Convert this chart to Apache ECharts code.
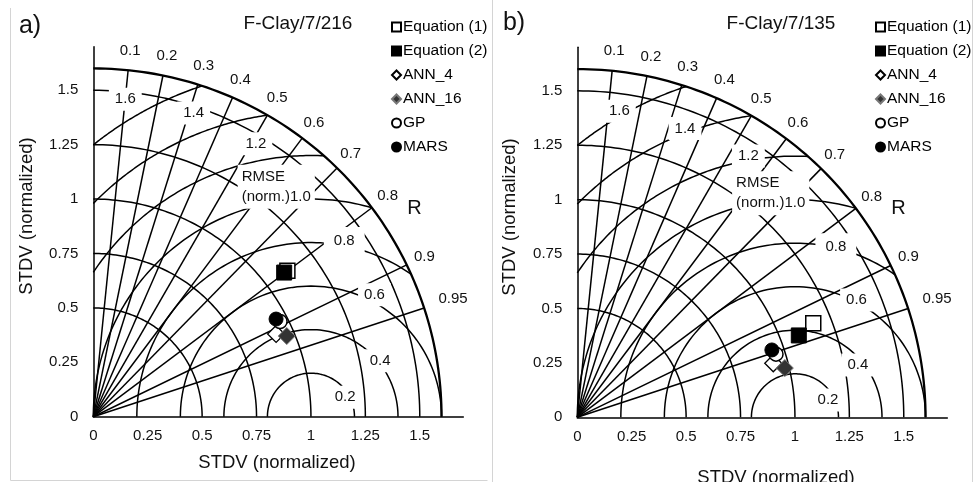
<!DOCTYPE html>
<html>
<head>
<meta charset="utf-8">
<script src="https://cdn.jsdelivr.net/npm/echarts@6/dist/echarts.min.js"></script>
<style>
html, body { margin: 0; padding: 0; background: #fff; }
#main { width: 976px; height: 482px; }
</style>
</head>
<body>
<div id="main"></div>
<script>
var models = ['Equation (1)', 'Equation (2)', 'ANN_4', 'ANN_16', 'GP', 'MARS'];

// normalized standard deviation and correlation of each model
var stdvA = [1.116, 1.099, 0.922, 0.963, 0.963, 0.952];
var corrA = [0.799, 0.798, 0.911, 0.923, 0.891, 0.882];
var stdvB = [1.167, 1.085, 0.934, 0.980, 0.958, 0.946];
var corrB = [0.929, 0.938, 0.964, 0.973, 0.953, 0.945];

// diagram grid
var corrTicks = [0.1, 0.2, 0.3, 0.4, 0.5, 0.6, 0.7, 0.8, 0.9, 0.95];
var stdvRings = [0.5, 0.75, 1, 1.25, 1.5];
var stdvOuter = 1.6;
var rmseRings = [0.2, 0.4, 0.6, 0.8, 1.0, 1.2, 1.4, 1.6];
var rmseNames = ['0.2', '0.4', '0.6', '0.8', 'RMSE\n(norm.)1.0', '1.2', '1.4', '1.6'];

// where excel put the rmse labels (data units)
var rmseSpotA = [[1.157, 0.089], [1.318, 0.257], [1.292, 0.560], [1.153, 0.809], [0.661, 1.057], [0.747, 1.254], [0.461, 1.395], [0.147, 1.459]];
var rmseSpotB = [[1.152, 0.079], [1.289, 0.240], [1.283, 0.539], [1.188, 0.784], [0.709, 1.029], [0.786, 1.200], [0.495, 1.327], [0.193, 1.406]];

var FONT = '"Liberation Sans", Arial, sans-serif';
var chart = echarts.init(document.getElementById('main'));

function ring(r) {
    var pts = [];
    for (var i = 0; i <= 90; i++) {
        var a = i / 90 * Math.PI / 2;
        pts.push([r * Math.cos(a), r * Math.sin(a)]);
    }
    return pts;
}

function rmseArc(r) {
    var t0 = 1 + r > stdvOuter ? Math.acos((stdvOuter * stdvOuter - 1 - r * r) / (2 * r)) : 0;
    var t1 = r > 1 ? Math.acos(-1 / r) : Math.PI;
    var pts = [];
    for (var i = 0; i <= 90; i++) {
        var t = t0 + (t1 - t0) * i / 90;
        pts.push([1 + r * Math.cos(t), r * Math.sin(t)]);
    }
    return pts;
}

function spoke(c) {
    return [[0, 0], [stdvOuter * c, stdvOuter * Math.sqrt(1 - c * c)]];
}

var symbols = [
    { symbol: 'rect', symbolSize: 15, itemStyle: { color: '#fff', borderColor: '#000', borderWidth: 1.5, opacity: 1 } },
    { symbol: 'rect', symbolSize: 15, itemStyle: { color: '#000', borderColor: '#000', borderWidth: 1, opacity: 1 } },
    { symbol: 'diamond', symbolSize: 17, itemStyle: { color: '#fff', borderColor: '#000', borderWidth: 1.3, opacity: 1 } },
    { symbol: 'diamond', symbolSize: 17, itemStyle: { color: '#333', borderColor: '#777', borderWidth: 1, opacity: 1 } },
    { symbol: 'circle', symbolSize: 14, itemStyle: { color: '#fff', borderColor: '#000', borderWidth: 1.5, opacity: 1 } },
    { symbol: 'circle', symbolSize: 14, itemStyle: { color: '#000', borderColor: '#000', borderWidth: 1, opacity: 1 } }
];

function panel(idx, stdv, corr, spots) {
    var list = [];
    var grid = stdvRings.map(function (r) { return { coords: ring(r) }; })
        .concat(rmseRings.map(function (r) { return { coords: rmseArc(r) }; }))
        .concat(corrTicks.map(function (c) { return { coords: spoke(c) }; }));
    list.push({
        type: 'lines', coordinateSystem: 'cartesian2d', xAxisIndex: idx, yAxisIndex: idx,
        polyline: true, silent: true, z: 2,
        lineStyle: { color: '#000', width: 1.5, opacity: 1 },
        data: grid
    });
    list.push({
        type: 'lines', coordinateSystem: 'cartesian2d', xAxisIndex: idx, yAxisIndex: idx,
        polyline: true, silent: true, z: 2,
        lineStyle: { color: '#000', width: 2.3, opacity: 1 },
        data: [{ coords: ring(stdvOuter) }]
    });
    list.push({
        type: 'scatter', xAxisIndex: idx, yAxisIndex: idx, z: 5, silent: true,
        symbolSize: 1, itemStyle: { color: 'rgba(255,255,255,0)', opacity: 1 },
        label: {
            show: true, position: 'inside', formatter: '{b}', fontFamily: FONT, opacity: 1,
            fontSize: 15, color: '#111', backgroundColor: '#fff', padding: [4, 6]
        },
        data: rmseNames.map(function (n, i) {
            var item = { name: n, value: spots[i] };
            if (n.indexOf('RMSE') === 0) {
                item.label = { position: 'right', distance: 0, align: 'left', lineHeight: 20, padding: [2, 4] };
            }
            if (n === '0.8') item.label = { padding: [6, 10] };
            return item;
        })
    });
    list.push({
        type: 'scatter', xAxisIndex: idx, yAxisIndex: idx, z: 5, silent: true,
        symbolSize: 1, itemStyle: { color: 'rgba(255,255,255,0)', opacity: 1 },
        label: { show: true, position: 'inside', formatter: '{b}', fontFamily: FONT, fontSize: 15, color: '#111', opacity: 1 },
        data: corrTicks.map(function (c) {
            var rr = String(c).length > 3 ? 1.74 : 1.69;
            return { name: String(c), value: [rr * c, rr * Math.sqrt(1 - c * c)] };
        }).concat([{
            name: 'R', value: [1.76 * Math.cos(33 * Math.PI / 180), 1.76 * Math.sin(33 * Math.PI / 180)],
            label: { fontSize: 20 }
        }])
    });
    models.forEach(function (m, i) {
        list.push(Object.assign({
            type: 'scatter', name: m, xAxisIndex: idx, yAxisIndex: idx, z: 10, silent: true,
            data: [[stdv[i] * corr[i], stdv[i] * Math.sqrt(1 - corr[i] * corr[i])]]
        }, symbols[i]));
    });
    return list;
}

function tickText(v) {
    return v > 1.55 ? '' : String(v);
}

function xAx(idx) {
    return {
        type: 'value', gridIndex: idx, min: 0, max: 1.7, interval: 0.25,
        axisLine: { show: true, onZero: false, lineStyle: { color: '#000', width: 1.5 } },
        axisTick: { show: false }, splitLine: { show: false },
        axisLabel: { fontFamily: FONT, fontSize: 15, color: '#111', margin: 12, formatter: tickText }
    };
}

function yAx(idx) {
    return {
        type: 'value', gridIndex: idx, min: 0, max: 1.7, interval: 0.25,
        axisLine: { show: true, onZero: false, lineStyle: { color: '#000', width: 1.5 } },
        axisTick: { show: false }, splitLine: { show: false },
        axisLabel: { fontFamily: FONT, fontSize: 15, color: '#111', margin: 15, formatter: tickText }
    };
}

function legendAt(left) {
    return {
        data: models, orient: 'vertical', left: left, top: 14,
        itemWidth: 9, itemHeight: 9, itemGap: 8, selectedMode: false,
        textStyle: { fontFamily: FONT, fontSize: 15.5, color: '#000', padding: [0, 0, 0, -3] }
    };
}

function txt(x, y, s, size, rot) {
    return {
        type: 'text', x: x, y: y, rotation: rot || 0, silent: true,
        style: { text: s, fontFamily: FONT, fontSize: size, fill: '#111', align: 'center', verticalAlign: 'middle' }
    };
}

var option = {
    animation: false,
    textStyle: { fontFamily: FONT },
    grid: [
        { left: 93.3, top: 46.7, width: 370, height: 370, outerBoundsMode: 'none' },
        { left: 577.3, top: 47.3, width: 370, height: 370, outerBoundsMode: 'none' }
    ],
    xAxis: [xAx(0), xAx(1)],
    yAxis: [yAx(0), yAx(1)],
    legend: [legendAt(386), legendAt(870)],
    graphic: [
        { type: 'polyline', silent: true, shape: { points: [[10.5, 8], [10.5, 480.5], [487.5, 480.5]] }, style: { stroke: '#d4d4d4', lineWidth: 1, fill: null } },
        { type: 'polyline', silent: true, shape: { points: [[492.5, 0], [492.5, 482]] }, style: { stroke: '#d4d4d4', lineWidth: 1, fill: null } },
        { type: 'polyline', silent: true, shape: { points: [[972.5, 0], [972.5, 482]] }, style: { stroke: '#d4d4d4', lineWidth: 1, fill: null } },
        txt(30, 26, 'a)', 25),
        txt(514, 23, 'b)', 25),
        txt(298, 24, 'F-Clay/7/216', 19),
        txt(781, 24, 'F-Clay/7/135', 19),
        txt(277, 463, 'STDV (normalized)', 18.5),
        txt(776, 478, 'STDV (normalized)', 18.5),
        txt(27, 216, 'STDV (normalized)', 18.5, Math.PI / 2),
        txt(510, 217, 'STDV (normalized)', 18.5, Math.PI / 2)
    ],
    series: panel(0, stdvA, corrA, rmseSpotA).concat(panel(1, stdvB, corrB, rmseSpotB))
};

chart.setOption(option);
window.onresize = chart.resize;
</script>
</body>
</html>
